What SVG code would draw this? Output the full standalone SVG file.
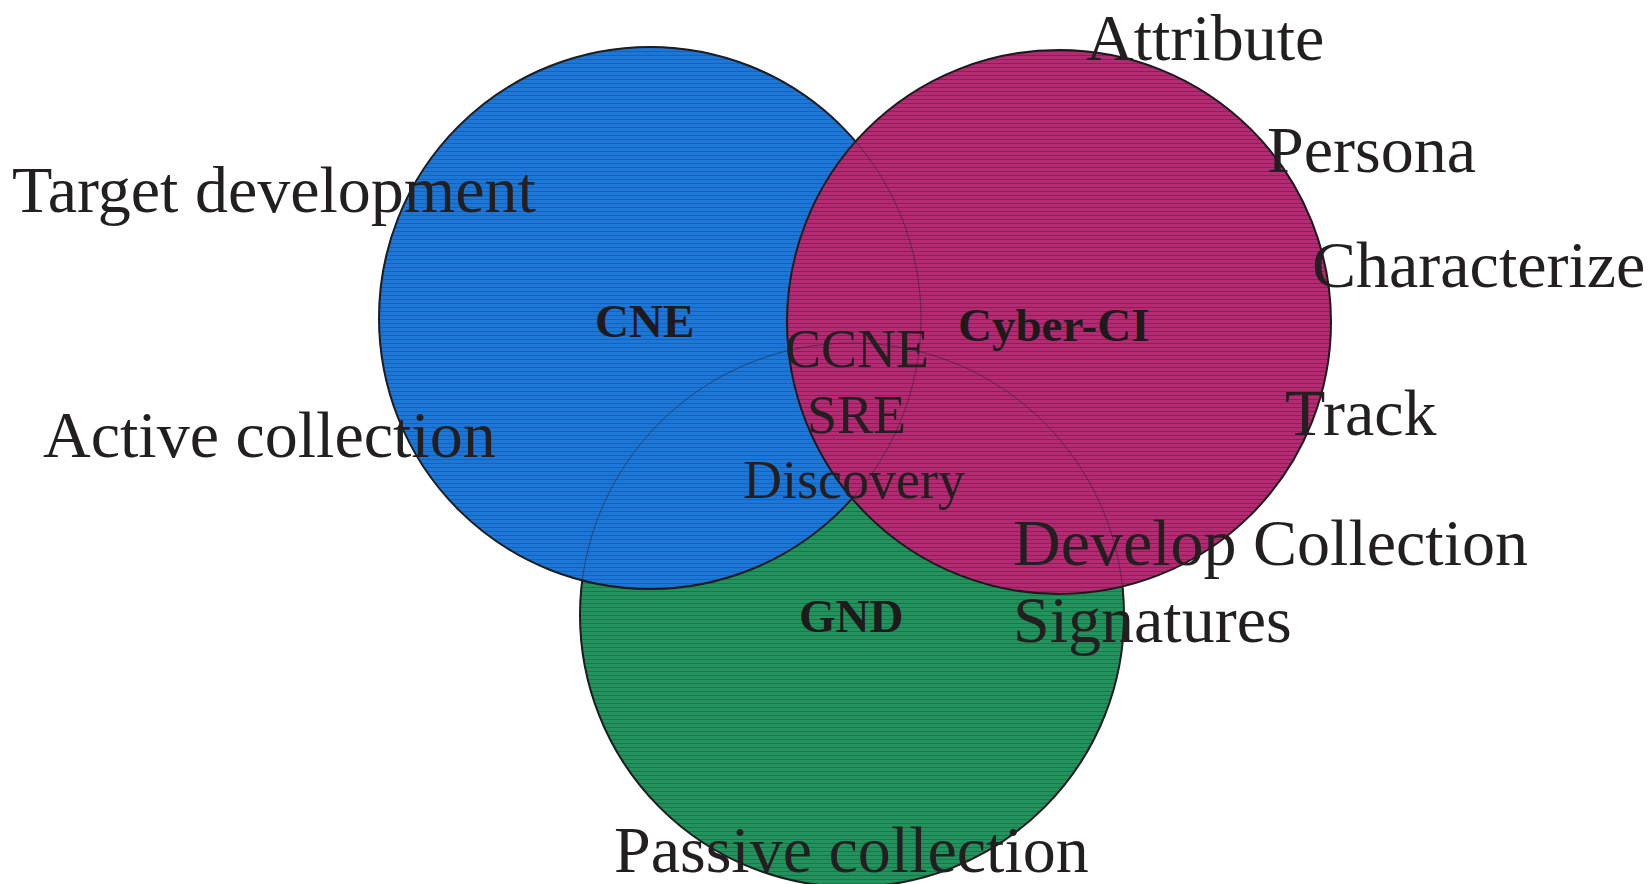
<svg xmlns="http://www.w3.org/2000/svg" width="1650" height="884" viewBox="0 0 1650 884">
<defs>
<pattern id="pBlue" width="8" height="4" patternUnits="userSpaceOnUse"><rect width="8" height="4" fill="#1c77d6"/><rect y="3" width="8" height="1" fill="#1562bc"/></pattern>
<pattern id="pPink" width="8" height="4" patternUnits="userSpaceOnUse"><rect width="8" height="4" fill="#b42b74"/><rect y="3" width="8" height="1" fill="#901d5a"/></pattern>
<pattern id="pGreen" width="8" height="4" patternUnits="userSpaceOnUse"><rect width="8" height="4" fill="#23935e"/><rect y="3" width="8" height="1" fill="#17794a"/></pattern>
</defs>
<style>
.edge{stroke:#1a1a1a;stroke-width:2;}
.faint{fill:none;stroke:#2a2030;stroke-width:1;stroke-opacity:0.55;}
.lbl{font-family:"Liberation Serif","Times New Roman",serif;font-size:66px;fill:#231f20;}
.in{font-family:"Liberation Serif","Times New Roman",serif;font-size:54px;fill:#231f20;}
.bold{font-family:"Liberation Serif","Times New Roman",serif;font-size:47px;font-weight:bold;fill:#1e1a1c;}
</style>
<rect width="1650" height="884" fill="#ffffff"/>
<g id="gnd-circle"><circle cx="852" cy="615" r="272" fill="url(#pGreen)" class="edge"/></g>
<g id="cne-circle"><circle cx="650" cy="318" r="271" fill="url(#pBlue)" class="edge"/></g>
<g id="cyberci-circle"><circle cx="1059" cy="322" r="272" fill="url(#pPink)" class="edge"/></g>
<g id="connectors">
<circle cx="852" cy="615" r="272" class="faint"/>
<circle cx="650" cy="318" r="271" class="faint"/>
</g>
<g id="center-labels">
<text class="bold" x="595" y="337">CNE</text>
<text class="bold" x="958" y="341">Cyber-CI</text>
<text class="bold" x="799" y="632">GND</text>
<text class="in" x="785" y="367">CCNE</text>
<text class="in" x="807" y="433">SRE</text>
<text class="in" x="743" y="498">Discovery</text>
</g>
<g id="outer-labels">
<text class="lbl" x="12" y="212">Target development</text>
<text class="lbl" x="43" y="457">Active collection</text>
<text class="lbl" x="1086" y="60">Attribute</text>
<text class="lbl" x="1267" y="172">Persona</text>
<text class="lbl" x="1312" y="287">Characterize</text>
<text class="lbl" x="1285" y="435">Track</text>
<text class="lbl" x="1013" y="565">Develop Collection</text>
<text class="lbl" x="1013" y="642">Signatures</text>
<text class="lbl" x="614" y="872">Passive collection</text>
</g>
</svg>
